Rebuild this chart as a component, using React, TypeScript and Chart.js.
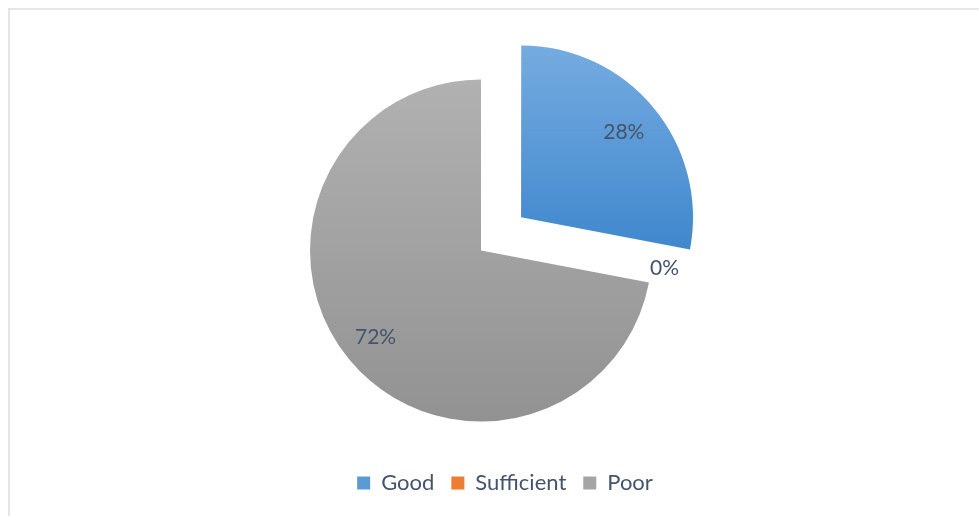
import React, { useEffect, useRef } from "react";
import { Chart, registerables } from "chart.js";

Chart.register(...registerables);

const categories = ["Good", "Sufficient", "Poor"];
const values = [28, 0, 72];
const flatColors = ["#5b9bd5", "#ed7d31", "#a5a5a5"];
const gradientStops: [number, string][][] = [
  [[0, "#75abe0"], [0.6, "#3f87cd"], [1, "#2f78c2"]],
  [[0, "#f4a06a"], [1, "#d96a1f"]],
  [[0, "#b1b1b1"], [1, "#929292"]],
];
const explode = [208, 0, 0];

const TEXT = "#44546a";
const FONT = "Lato";
const RADIUS = 171;

const labelPlugin = {
  id: "pieLabels",
  afterDatasetsDraw(chart: any) {
    const meta = chart.getDatasetMeta(0);
    const ds = chart.data.datasets[0];
    const total = ds.data.reduce((a: number, b: number) => a + b, 0);
    const ctx = chart.ctx;
    ctx.save();
    ctx.font = `21px ${FONT}`;
    ctx.fillStyle = TEXT;
    meta.data.forEach((arc: any, i: number) => {
      const { x, y, startAngle, endAngle, outerRadius } = arc.getProps(
        ["x", "y", "startAngle", "endAngle", "outerRadius"],
        true
      );
      const mid = (startAngle + endAngle) / 2;
      const off = (arc.options.offset || 0) / 4;
      const v = ds.data[i];
      const text = Math.round((v / total) * 100) + "%";
      if (v === 0) {
        const ex = x + Math.cos(mid) * outerRadius;
        const ey = y + Math.sin(mid) * outerRadius;
        ctx.textAlign = "left";
        ctx.textBaseline = "alphabetic";
        ctx.fillText(text, ex + 1, ey - 8);
      } else {
        const r = off + outerRadius * (off > 0 ? 0.78 : 0.8);
        ctx.textAlign = "center";
        ctx.textBaseline = "middle";
        ctx.fillText(text, x + Math.cos(mid) * r, y + Math.sin(mid) * r);
      }
    });
    ctx.restore();
  },
};

const legendShift = {
  id: "legendShift",
  afterLayout(chart: any) {
    const lg = chart.legend;
    if (lg) {
      lg.left += 24;
      lg.right += 24;
    }
  },
};

export default function App() {
  const ref = useRef<HTMLCanvasElement>(null);
  useEffect(() => {
    if (!ref.current) return;
    const chart = new Chart(ref.current, {
      type: "pie",
      data: {
        labels: categories,
        datasets: [
          {
            data: values,
            borderWidth: 0,
            offset: explode,
            backgroundColor: (c: any) => {
              const ch = c.chart;
              const area = ch.chartArea;
              if (!area) return flatColors[c.dataIndex];
              const cy = (area.top + area.bottom) / 2;
              const g = ch.ctx.createLinearGradient(0, cy - RADIUS, 0, cy + RADIUS);
              gradientStops[c.dataIndex].forEach(([p, col]) => g.addColorStop(p, col));
              return g;
            },
          } as any,
        ],
      },
      options: {
        animation: false,
        responsive: true,
        maintainAspectRatio: false,
        radius: RADIUS,
        layout: { padding: { left: 0, right: 17, top: 46, bottom: 12 } },
        plugins: {
          tooltip: { enabled: false },
          legend: {
            position: "bottom",
            labels: {
              font: { family: FONT, size: 22 },
              color: TEXT,
              boxWidth: 13,
              boxHeight: 13,
              padding: 17,
              generateLabels: (ch: any) =>
                ch.data.labels.map((l: string, i: number) => ({
                  text: l,
                  fillStyle: flatColors[i],
                  strokeStyle: flatColors[i],
                  lineWidth: 0,
                  fontColor: TEXT,
                  hidden: false,
                  index: i,
                })),
            },
          },
        },
      } as any,
      plugins: [labelPlugin, legendShift],
    });
    return () => chart.destroy();
  }, []);

  return (
    <div style={{ position: "fixed", inset: 0, overflow: "hidden", background: "#fff" }}>
      <div
        style={{
          position: "absolute",
          left: 8,
          top: 8,
          right: -10,
          bottom: -10,
          borderTop: "2px solid #e3e5e9",
          borderLeft: "2px solid #e3e5e9",
        }}
      />
      <div style={{ position: "absolute", left: 0, top: 0, width: 979, height: 516 }}>
        <canvas ref={ref} />
      </div>
    </div>
  );
}
